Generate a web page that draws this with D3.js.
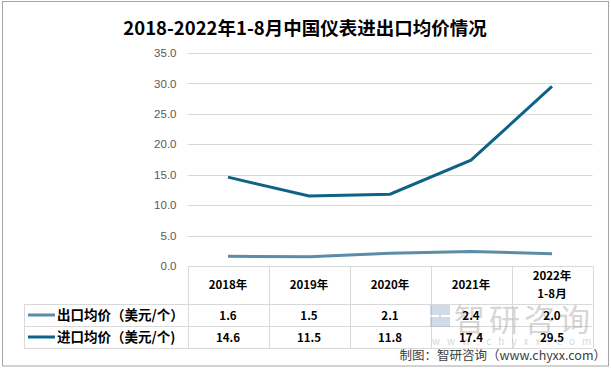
<!DOCTYPE html>
<html lang="zh">
<head>
<meta charset="utf-8">
<script src="https://d3js.org/d3.v7.min.js"></script>
<style>
  body { margin: 0; background: #fff; }
  text { font-family: "Noto Sans CJK SC", "Noto Sans", sans-serif; }
</style>
</head>
<body>
<script>
// data
const years = ["2018年", "2019年", "2020年", "2021年", "2022年\n1-8月"];
const exportPrice = [1.6, 1.5, 2.1, 2.4, 2.0];
const importPrice = [14.6, 11.5, 11.8, 17.4, 29.5];
const yTicks = [0, 5, 10, 15, 20, 25, 30, 35];
const seriesNames = ["出口均价（美元/个）", "进口均价（美元/个)"];
const colours = ["#5b8da6", "#0d6385"];

const W = 611, H = 370;
const plotLeft = 187.5, plotRight = 592.5, plotTop = 53, plotBottom = 266;
const rowH = [304, 326, 348];
const tableLeft = 24;

const svg = d3.select("body").append("svg")
    .attr("width", W).attr("height", H);

// outer frame
svg.append("rect")
    .attr("x", 2.5).attr("y", 1.5)
    .attr("width", 606).attr("height", 364.5)
    .attr("fill", "#fff").attr("stroke", "#a6a6a6").attr("stroke-width", 1);

// title
svg.append("text")
    .attr("x", 305).attr("y", 35)
    .attr("text-anchor", "middle")
    .attr("font-size", 18.5).attr("font-weight", "bold")
    .attr("fill", "#000")
    .text("2018-2022年1-8月中国仪表进出口均价情况");

const x = d3.scaleBand().domain(years).range([plotLeft, plotRight]);
const y = d3.scaleLinear().domain([0, 35]).range([plotBottom, plotTop]);

// gridlines
svg.append("g").selectAll("line").data(yTicks.slice(1)).join("line")
    .attr("x1", plotLeft).attr("x2", plotRight)
    .attr("y1", d => Math.round(y(d)) + 0.5).attr("y2", d => Math.round(y(d)) + 0.5)
    .attr("stroke", "#d9d9d9");

// y axis labels
const yAxis = svg.append("g")
    .attr("transform", "translate(" + plotLeft + ",0)")
    .call(d3.axisLeft(y).tickValues(yTicks).tickFormat(d3.format(".1f")).tickSize(0).tickPadding(11));
yAxis.select(".domain").remove();
yAxis.selectAll("text")
    .attr("font-size", 11.5)
    .attr("fill", "#595959")
    .style("font-family", "'Liberation Sans', 'DejaVu Sans', sans-serif");

// table lines
const tg = svg.append("g").attr("stroke", "#d9d9d9").attr("fill", "none");
tg.append("line").attr("x1", plotLeft).attr("x2", plotRight).attr("y1", plotBottom + 0.5).attr("y2", plotBottom + 0.5);
rowH.forEach(r => {
    tg.append("line").attr("x1", tableLeft).attr("x2", plotRight).attr("y1", r + 0.5).attr("y2", r + 0.5);
});
const cols = years.map(d => x(d)).concat([plotRight]);
cols.forEach(c => {
    tg.append("line").attr("x1", Math.round(c) + 0.5).attr("x2", Math.round(c) + 0.5)
        .attr("y1", plotBottom).attr("y2", rowH[2]);
});
tg.append("line").attr("x1", tableLeft + 0.5).attr("x2", tableLeft + 0.5)
    .attr("y1", rowH[0]).attr("y2", rowH[2]);

// watermark
const wm = svg.append("g").attr("opacity", 0.4);
wm.append("path").attr("d", "M430,305h20v10h-11v2h11v10h-20v-10h11v-2h-11z").attr("fill", "#8aa6c8");
wm.append("text").attr("x", 454).attr("y", 331)
    .attr("font-size", 31).attr("fill", "#9a9a9a").attr("letter-spacing", 4)
    .text("智研咨询");
wm.append("text").attr("x", 432).attr("y", 345)
    .attr("font-size", 10).attr("fill", "#9a9a9a").attr("letter-spacing", 7)
    .text("www.chyxx.com");

// header row
const hdr = svg.append("g").attr("font-size", 11.5).attr("font-weight", "bold").attr("fill", "#000");
years.forEach(d => {
    const parts = d.split("\n");
    const cx = x(d) + x.bandwidth() / 2;
    const t = hdr.append("text").attr("text-anchor", "middle");
    if (parts.length === 1) {
        t.attr("x", cx).attr("y", 289).text(parts[0]);
    } else {
        t.append("tspan").attr("x", cx).attr("y", 280).text(parts[0]);
        t.append("tspan").attr("x", cx).attr("y", 298).text(parts[1]);
    }
});

// series rows
[exportPrice, importPrice].forEach((vals, i) => {
    const cy = (rowH[i] + rowH[i + 1]) / 2;
    svg.append("line")
        .attr("x1", 28).attr("x2", 55).attr("y1", cy).attr("y2", cy)
        .attr("stroke", colours[i]).attr("stroke-width", 3);
    svg.append("text")
        .attr("x", 57).attr("y", cy + 5)
        .attr("font-size", 13.5).attr("font-weight", "bold")
        .text(seriesNames[i]);
    svg.append("g").selectAll("text").data(vals).join("text")
        .attr("x", (d, j) => x(years[j]) + x.bandwidth() / 2)
        .attr("y", cy + 4.5)
        .attr("text-anchor", "middle")
        .attr("font-size", 11.5).attr("font-weight", "bold")
        .text(d => d.toFixed(1));
});

// lines
const line = d3.line()
    .x((d, j) => x(years[j]) + x.bandwidth() / 2)
    .y(d => y(d));
[exportPrice, importPrice].forEach((vals, i) => {
    svg.append("path")
        .datum(vals)
        .attr("d", line)
        .attr("fill", "none")
        .attr("stroke", colours[i])
        .attr("stroke-width", 3);
});

// source
svg.append("text")
    .attr("x", 606).attr("y", 360)
    .attr("text-anchor", "end")
    .attr("font-size", 12.5).attr("fill", "#404040")
    .text("制图：智研咨询（www.chyxx.com）");
</script>
</body>
</html>
